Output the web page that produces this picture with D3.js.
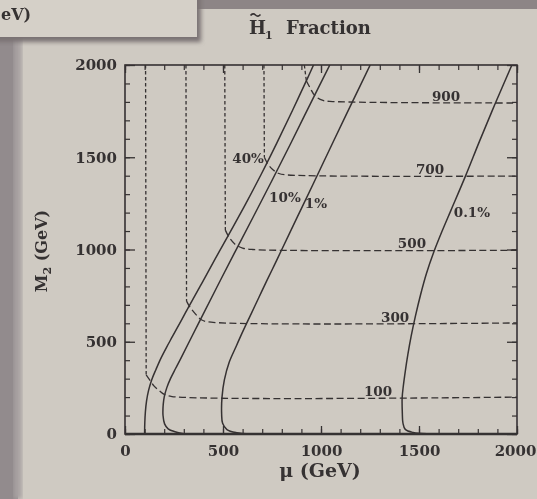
<!DOCTYPE html>
<html><head><meta charset="utf-8">
<script src="https://cdn.jsdelivr.net/npm/d3@7"></script>
<style>html,body{margin:0;padding:0;background:#cfcac2;overflow:hidden}</style>
</head><body><svg id="c" width="537" height="499"></svg>
<script>
// ---- data (mu, M2) in GeV ----
const xTicks = [0, 500, 1000, 1500, 2000];
const yTicks = [0, 500, 1000, 1500, 2000];
const minorTicks = d3.range(0, 2001, 100);

const frac40 = [[100,0],[101,60],[104,120],[110,180],[120,235],[136,293],[158,350],[183,410],[212,470],[243,530],[308,656],[383,800],[458,945],[535,1092],[615,1246],[695,1408],[775,1578],[855,1755],[935,1937],[962,2000]];
const frac10 = [[300,2],[255,12],[220,28],[202,55],[194,100],[195,160],[201,205],[213,250],[232,300],[258,355],[285,410],[375,600],[466,790],[558,980],[652,1172],[748,1370],[846,1576],[945,1788],[1045,2000]];
const frac1  = [[640,1],[570,7],[520,24],[498,58],[493,110],[495,200],[507,293],[532,390],[565,470],[603,560],[643,650],[683,740],[723,830],[762,915],[800,1000],[880,1178],[960,1355],[1071,1603],[1160,1800],[1251,2000]];
const frac01 = [[1540,1],[1470,8],[1430,25],[1418,60],[1415,110],[1414,195],[1420,260],[1430,340],[1443,430],[1460,530],[1482,640],[1508,755],[1538,870],[1575,985],[1618,1100],[1664,1215],[1736,1395],[1810,1590],[1890,1794],[1974,2000]];
const fracCurves = [frac40, frac10, frac1, frac01];
const fracLabels = ["40%", "10%", "1%", "0.1%"];
const fracLabelPos = [[628,1496],[816,1285],[974,1252],[1770,1203]];

const massLevels = [100, 300, 500, 700, 900];
const contour100 = [[105,2000],[108,320],[125,295],[150,258],[175,235],[200,215],[240,203],[2000,200]];
const contour300 = [[311,2000],[314,720],[330,690],[360,650],[392,618],[440,606],[2000,602]];
const contour500 = [[509,2000],[512,1105],[530,1068],[560,1030],[600,1008],[650,1000],[2000,996]];
const contour700 = [[709,2000],[711,1500],[728,1465],[752,1435],[785,1412],[830,1404],[2000,1398]];
const contour900 = [[915,2000],[925,1915],[945,1875],[970,1832],[1010,1808],[1060,1802],[2000,1794]];
const contours = [contour100, contour300, contour500, contour700, contour900];
const massLabelPos = [[1291,233],[1378,634],[1464,1035],[1556,1436],[1638,1832]];

// ---- drawing ----
const svg = d3.select("#c");
const W = 537, H = 499;
const ink = "#363132";
const FONT = "'DejaVu Serif', serif";

const defs = svg.append("defs");
defs.append("filter").attr("id","blur").append("feGaussianBlur").attr("stdDeviation",0.55);
defs.append("filter").attr("id","blur2").append("feGaussianBlur").attr("stdDeviation",2.2);

// photo background pieces
svg.append("rect").attr("width",W).attr("height",H).attr("fill","#cfcac2");
svg.append("rect").attr("x",0).attr("y",0).attr("width",W).attr("height",9).attr("fill","#8d8586");
svg.append("rect").attr("x",0).attr("y",0).attr("width",18).attr("height",H).attr("fill","#928b8d");
svg.append("rect").attr("x",14).attr("y",0).attr("width",8).attr("height",H).attr("fill","#a8a2a2").attr("filter","url(#blur2)");
// overlapping window with shadow
svg.append("rect").attr("x",-5).attr("y",-5).attr("width",206).attr("height",47).attr("fill","#7a7273").attr("filter","url(#blur2)");
svg.append("rect").attr("x",-2).attr("y",-2).attr("width",199).attr("height",39).attr("fill","#d5d0c8");
svg.append("text").attr("x",1).attr("y",20).attr("font-family",FONT).attr("font-weight","bold")
  .attr("font-size",16).attr("fill",ink).attr("filter","url(#blur)").text("eV)");

const x = d3.scaleLinear().domain([0,2000]).range([125,517]);
const y = d3.scaleLinear().domain([0,2000]).range([434,65]);

const g = svg.append("g").attr("filter","url(#blur)");

// minor ticks
const minorAxes = [
  [d3.axisBottom(x), `translate(0,${y(0)})`],
  [d3.axisTop(x), `translate(0,${y(2000)})`],
  [d3.axisLeft(y), `translate(${x(0)},0)`],
  [d3.axisRight(y), `translate(${x(2000)},0)`]
];
minorAxes.forEach(([ax, tr]) => {
  const a = g.append("g").attr("transform", tr)
    .call(ax.tickValues(minorTicks).tickSize(-5).tickSizeOuter(0).tickFormat(""));
  a.select(".domain").remove();
  a.selectAll("line").attr("stroke", ink).attr("stroke-width", 1.2);
});

// major ticks with labels
const fmt = d3.format("d");
const bx = g.append("g").attr("transform",`translate(0,${y(0)})`)
  .call(d3.axisBottom(x).tickValues(xTicks).tickSize(-8).tickSizeOuter(0).tickPadding(11).tickFormat(fmt));
const ly = g.append("g").attr("transform",`translate(${x(0)},0)`)
  .call(d3.axisLeft(y).tickValues(yTicks).tickSize(-10).tickSizeOuter(0).tickPadding(8).tickFormat(fmt));
const tx = g.append("g").attr("transform",`translate(0,${y(2000)})`)
  .call(d3.axisTop(x).tickValues(xTicks).tickSize(-8).tickSizeOuter(0).tickFormat(""));
const ry = g.append("g").attr("transform",`translate(${x(2000)},0)`)
  .call(d3.axisRight(y).tickValues(yTicks).tickSize(-10).tickSizeOuter(0).tickFormat(""));
[bx, ly, tx, ry].forEach(a => {
  a.select(".domain").remove();
  a.selectAll("line").attr("stroke", ink).attr("stroke-width", 1.3);
  a.selectAll("text").attr("fill", ink).attr("font-family", FONT)
    .attr("font-weight","bold").attr("font-size", 15);
});
// keep the last x label inside the window
bx.selectAll("text").filter(d => d === 2000).attr("dx", -2);

// frame
g.append("rect").attr("x",x(0)).attr("y",y(2000)).attr("width",x(2000)-x(0)).attr("height",y(0)-y(2000))
  .attr("fill","none").attr("stroke",ink).attr("stroke-width",1.6);
g.append("line").attr("x1",x(0)).attr("x2",x(2000)).attr("y1",y(0)).attr("y2",y(0))
  .attr("stroke",ink).attr("stroke-width",2.6);

const clip = defs.append("clipPath").attr("id","plot");
clip.append("rect").attr("x",x(0)).attr("y",y(2000)).attr("width",x(2000)-x(0)).attr("height",y(0)-y(2000));
const pg = g.append("g").attr("clip-path","url(#plot)");

// dashed contours of LSP mass
const lineLin = d3.line().x(d => x(d[0])).y(d => y(d[1]));
const lineSmooth = d3.line().x(d => x(d[0])).y(d => y(d[1])).curve(d3.curveCatmullRom.alpha(0.5));
contours.forEach(c => {
  pg.append("path").attr("d", lineLin(c.slice(0,2))).attr("fill","none")
    .attr("stroke", ink).attr("stroke-width",1.3).attr("stroke-dasharray","3.5,2.5");
  pg.append("path").attr("d", lineSmooth(c.slice(1))).attr("fill","none")
    .attr("stroke", ink).attr("stroke-width",1.3).attr("stroke-dasharray","7,3.5");
});

// solid fraction curves
fracCurves.forEach(c => {
  pg.append("path").attr("d", lineSmooth(c)).attr("fill","none")
    .attr("stroke", ink).attr("stroke-width",1.5);
});

// labels
const labStyle = s => s.attr("fill", ink).attr("font-family", FONT).attr("font-weight","bold")
  .attr("font-size", 13.5).attr("text-anchor","middle").attr("dominant-baseline","central");
fracLabels.forEach((t,i) => {
  g.append("text").attr("x", x(fracLabelPos[i][0])).attr("y", y(fracLabelPos[i][1])).text(t).call(labStyle);
});
massLevels.forEach((m,i) => {
  g.append("text").attr("x", x(massLabelPos[i][0])).attr("y", y(massLabelPos[i][1])).text(m).call(labStyle);
});

// title
const tg = svg.append("g").attr("filter","url(#blur)").attr("fill", ink)
  .attr("font-family", FONT).attr("font-weight","bold");
tg.append("text").attr("x",249).attr("y",34).attr("font-size",18).text("H");
tg.append("path").attr("d","M250.5,15.5 q2.5,-3 5,-0.5 t5,-0.5").attr("fill","none").attr("stroke",ink).attr("stroke-width",1.6);
tg.append("text").attr("x",265).attr("y",39).attr("font-size",11).text("1");
tg.append("text").attr("x",286).attr("y",34).attr("font-size",18).text("Fraction");

// axis titles
svg.append("text").attr("x",320).attr("y",477).attr("text-anchor","middle").attr("filter","url(#blur)")
  .attr("font-family",FONT).attr("font-weight","bold").attr("font-size",19).attr("fill",ink)
  .text("μ (GeV)");
const yt = svg.append("text").attr("transform","translate(47,251) rotate(-90)").attr("text-anchor","middle")
  .attr("filter","url(#blur)").attr("font-family",FONT).attr("font-weight","bold").attr("font-size",16).attr("fill",ink);
yt.append("tspan").text("M");
yt.append("tspan").attr("font-size",11).attr("dy",4).text("2");
yt.append("tspan").attr("dy",-4).text(" (GeV)");
</script></body></html>
